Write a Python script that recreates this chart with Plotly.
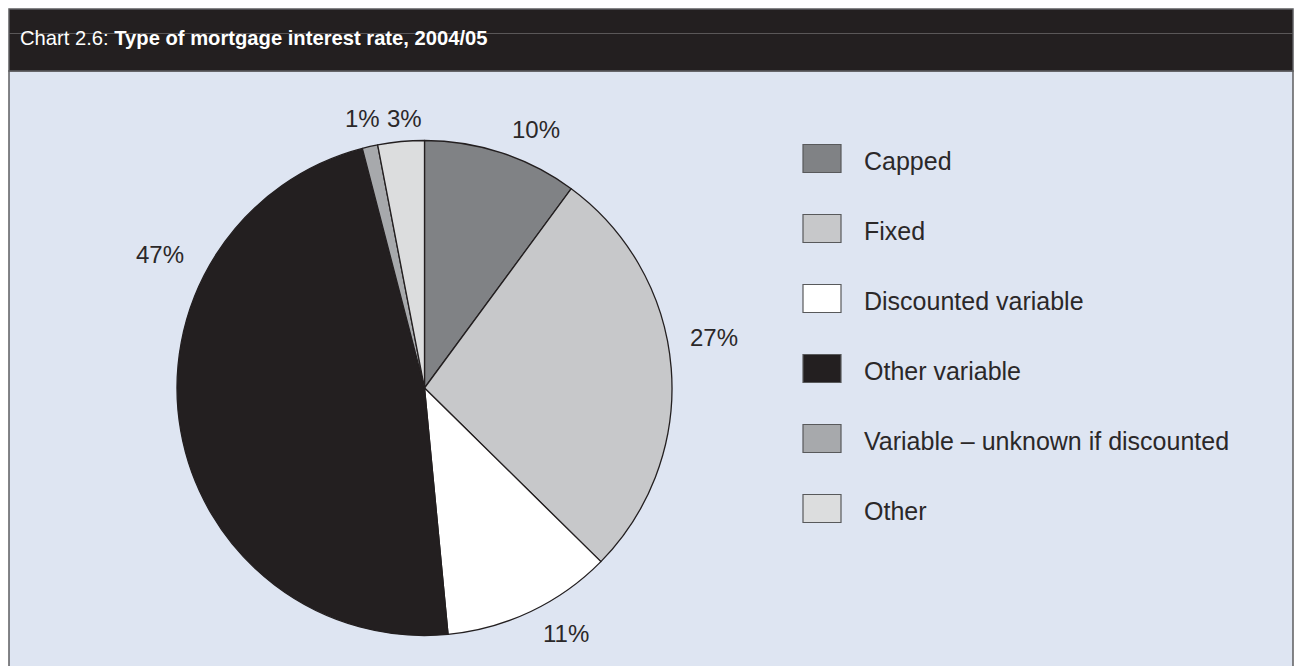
import plotly.graph_objects as go

# Mortgage interest rate types, 2004/05 (% of mortgages)
categories = [
    "Capped",
    "Fixed",
    "Discounted variable",
    "Other variable",
    "Variable \u2013 unknown if discounted",
    "Other",
]
shares = [10, 27, 11, 47, 1, 3]
slice_colors = ["#808285", "#c7c8ca", "#ffffff", "#231f20", "#a7a9ac", "#dcddde"]

# Canvas and frame geometry (pixels)
W, H = 1295, 666
FRAME_L, FRAME_R, FRAME_T = 9, 1293, 9
HEADER_B = 71
PIE_CX, PIE_CY, PIE_R = 424.5, 388, 247.5

# Where each percentage label sits around the pie (pixel centres)
label_pos = [(536, 129), (714, 337), (566, 633), (160, 255), (362, 118), (404, 118)]

# Legend layout (pixels)
LEG_SW_L, LEG_SW_R, LEG_SW_H = 803, 841, 28
LEG_TEXT_X = 862
LEG_Y0, LEG_STEP = 158.5, 70

TEXT_COLOR = "#2b2829"
FONT = "Liberation Sans, Arial, Helvetica, sans-serif"


def px(x):
    return x / W


def py(y):
    return 1 - y / H


fig = go.Figure()

fig.add_trace(
    go.Pie(
        labels=categories,
        values=shares,
        sort=False,
        direction="clockwise",
        rotation=0,
        textinfo="none",
        hoverinfo="label+value",
        marker=dict(colors=slice_colors, line=dict(color="#231f20", width=1.3)),
        domain=dict(
            x=[px(PIE_CX - PIE_R), px(PIE_CX + PIE_R)],
            y=[py(PIE_CY + PIE_R), py(PIE_CY - PIE_R)],
        ),
        showlegend=False,
    )
)

shapes = [
    # light panel body (runs past the bottom edge of the canvas)
    dict(type="rect", xref="paper", yref="paper",
         x0=px(FRAME_L), x1=px(FRAME_R), y0=py(H + 10), y1=py(HEADER_B),
         fillcolor="#dee5f2", line=dict(color="#5d5e60", width=1.5), layer="below"),
    # dark header band
    dict(type="rect", xref="paper", yref="paper",
         x0=px(FRAME_L), x1=px(FRAME_R), y0=py(HEADER_B), y1=py(FRAME_T),
         fillcolor="#231f20", line=dict(color="#5d5e60", width=1.5), layer="below"),
    # thin rule across the header
    dict(type="line", xref="paper", yref="paper",
         x0=px(FRAME_L), x1=px(FRAME_R), y0=py(33.5), y1=py(33.5),
         line=dict(color="#5a5758", width=1), layer="below"),
]

annotations = [
    dict(
        xref="paper", yref="paper", x=px(18), y=py(38),
        xanchor="left", yanchor="middle", showarrow=False,
        text="Chart 2.6: <b>Type of mortgage interest rate, 2004/05</b>",
        font=dict(family=FONT, size=20.2, color="#ffffff"),
    )
]

# Percentage labels next to the slices
for val, (lx, ly) in zip(shares, label_pos):
    annotations.append(
        dict(
            xref="paper", yref="paper", x=px(lx), y=py(ly),
            xanchor="center", yanchor="middle", showarrow=False,
            text=f"{val}%",
            font=dict(family=FONT, size=24, color=TEXT_COLOR),
        )
    )

# Legend: swatch boxes and names
for i, (name, col) in enumerate(zip(categories, slice_colors)):
    cy = LEG_Y0 + i * LEG_STEP
    shapes.append(
        dict(type="rect", xref="paper", yref="paper",
             x0=px(LEG_SW_L), x1=px(LEG_SW_R),
             y0=py(cy + LEG_SW_H / 2), y1=py(cy - LEG_SW_H / 2),
             fillcolor=col, line=dict(color="#58595b", width=1.2))
    )
    annotations.append(
        dict(
            xref="paper", yref="paper", x=px(LEG_TEXT_X), y=py(cy + 2),
            xanchor="left", yanchor="middle", showarrow=False,
            text=name,
            font=dict(family=FONT, size=25, color=TEXT_COLOR),
        )
    )

fig.update_layout(
    width=W,
    height=H,
    margin=dict(l=0, r=0, t=0, b=0),
    paper_bgcolor="#ffffff",
    plot_bgcolor="#ffffff",
    shapes=shapes,
    annotations=annotations,
    showlegend=False,
)

fig.write_html("out.html", config={"displayModeBar": False})
